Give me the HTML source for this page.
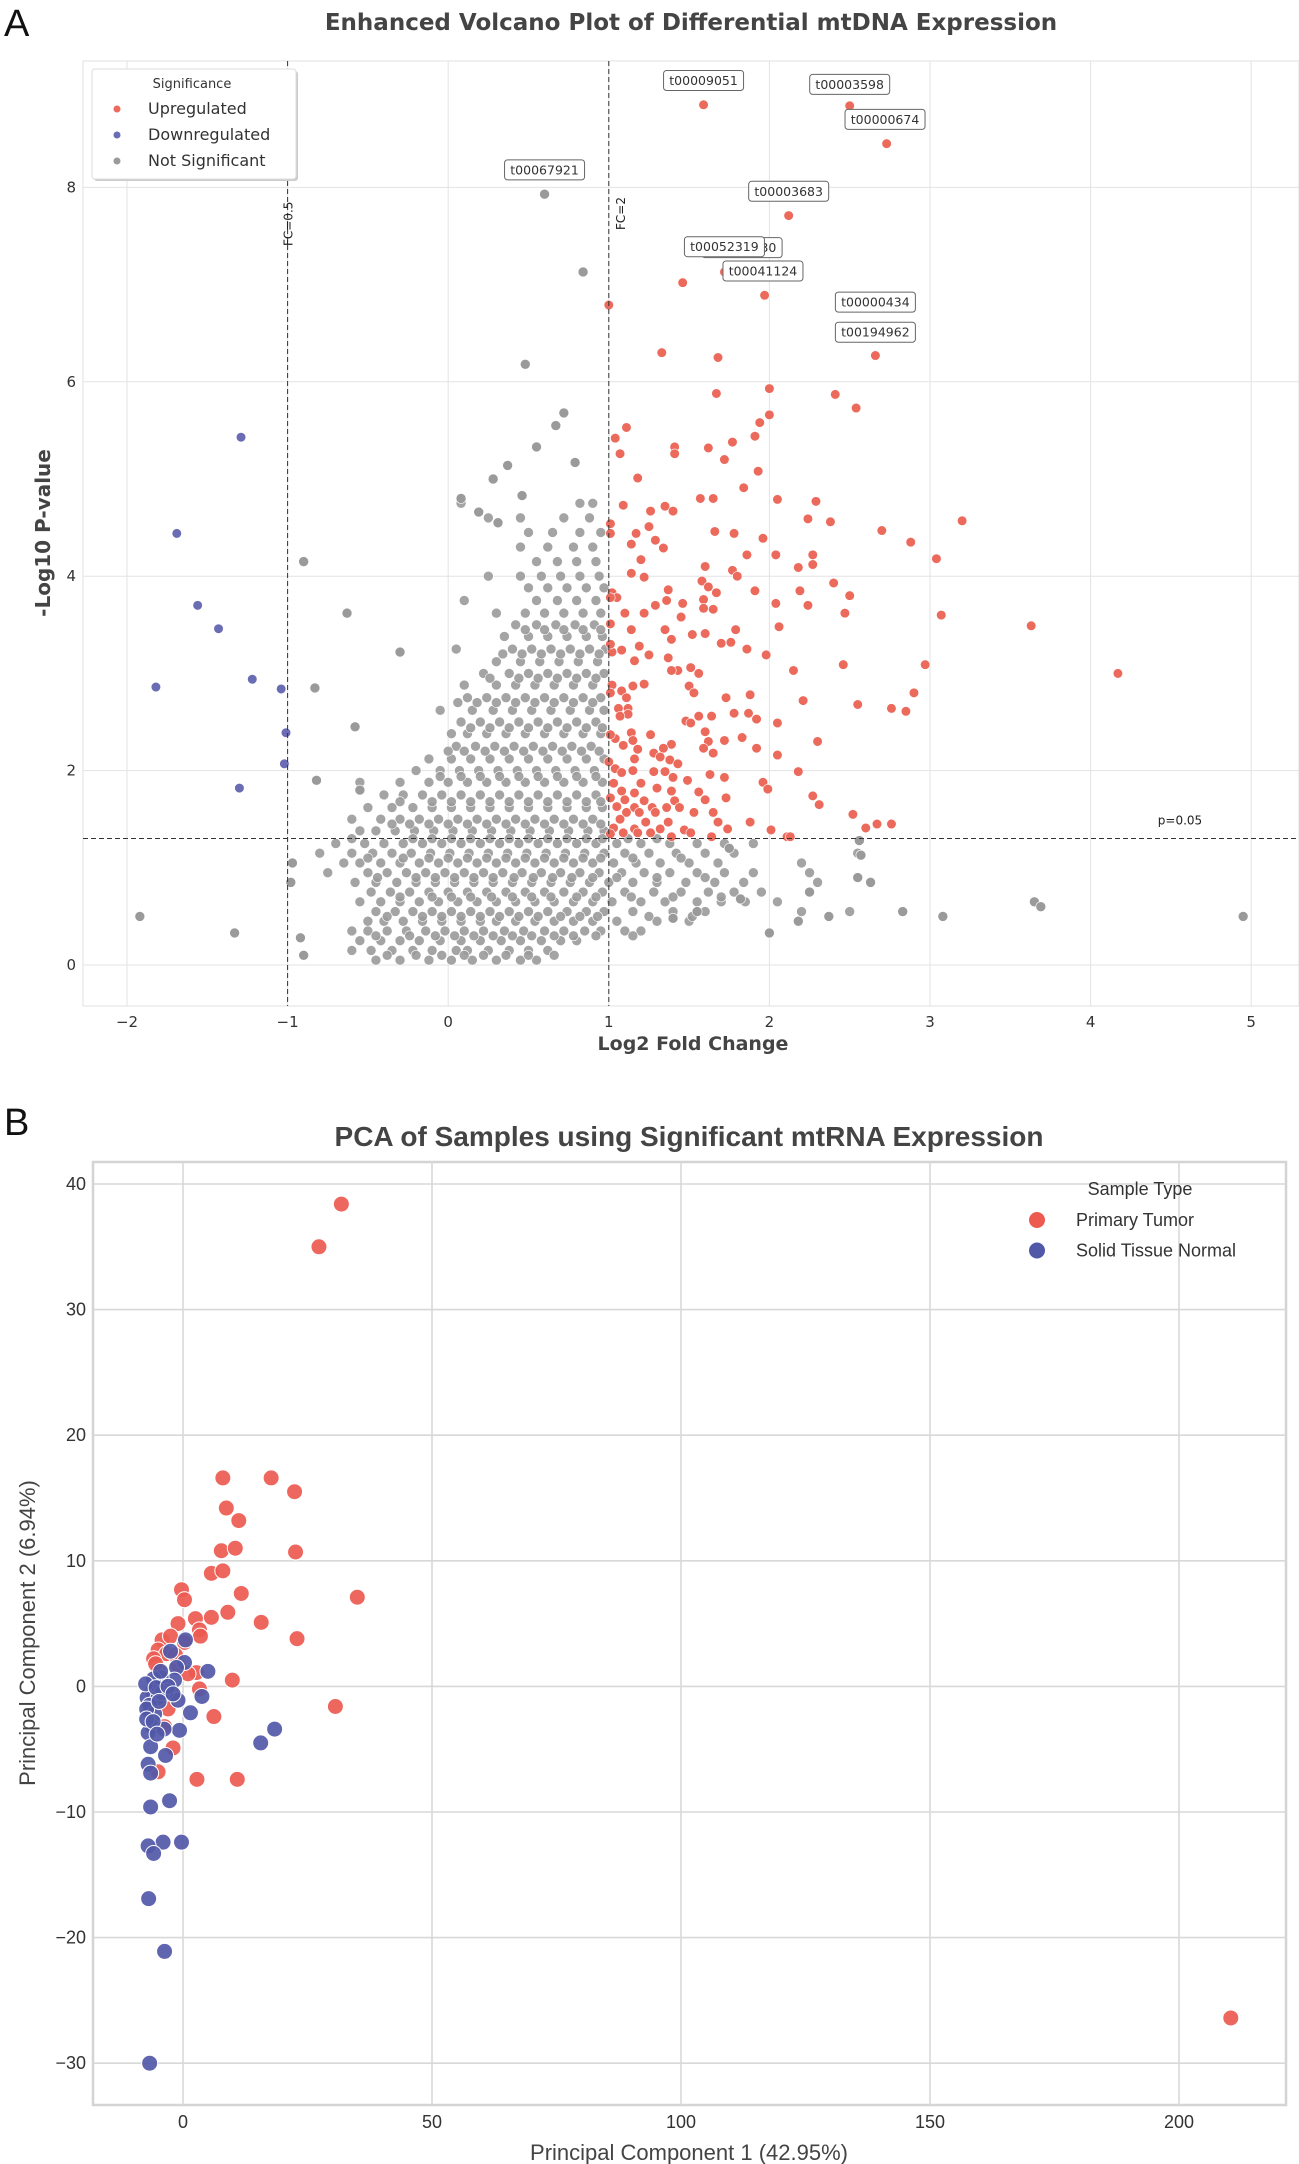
<!DOCTYPE html>
<html><head><meta charset="utf-8"><style>
html,body{margin:0;padding:0;background:#fff;}
svg{display:block;}
</style></head><body>
<svg id="fig" width="1299" height="2164" xmlns="http://www.w3.org/2000/svg">
<text x="4" y="36" font-family="Liberation Sans, sans-serif" font-size="38" fill="#111">A</text>
<text x="691" y="30" text-anchor="middle" font-family="DejaVu Sans, sans-serif" font-weight="bold" font-size="23" fill="#444">Enhanced Volcano Plot of Differential mtDNA Expression</text>
<g id="va"></g>
<text x="4" y="1135" font-family="Liberation Sans, sans-serif" font-size="38" fill="#111">B</text>
<text x="689" y="1146" text-anchor="middle" font-family="Liberation Sans, sans-serif" font-weight="bold" font-size="28" fill="#444">PCA of Samples using Significant mtRNA Expression</text>
<g id="pb"></g>
</svg>
<script>
// ---------- Volcano data ----------
const volXTicks = [-2,-1,0,1,2,3,4,5];
const volYTicks = [0,2,4,6,8];
const upX = [1.46,1.00,1.33,1.68,2.66,2.00,1.67,2.41,2.54,2.00,1.94,1.11,1.04,1.77,1.41,1.62,1.91,1.07,1.41,1.72,1.18,1.93,1.84,1.57,1.65,2.05,2.29,1.09,1.35,1.26,1.40,2.24,2.38,3.20,1.25,1.17,1.66,1.78,1.96,2.70,2.88,1.14,1.29,1.34,2.04,2.27,3.04,1.20,1.60,1.86,2.18,2.27,1.77,1.14,1.22,1.80,2.40,1.58,1.62,1.37,1.67,1.91,2.19,2.50,1.02,1.05,1.59,1.29,1.36,1.46,2.04,2.24,2.47,3.07,3.63,1.10,1.22,1.59,1.65,1.45,1.14,1.35,1.52,1.60,1.79,2.06,1.70,1.76,1.39,1.08,1.19,1.02,1.25,1.86,1.98,1.37,1.16,2.97,2.46,1.51,1.43,1.39,2.15,1.56,4.17,1.22,1.02,1.15,1.50,1.08,1.53,2.90,1.11,1.73,1.88,2.21,2.55,2.76,2.85,1.06,1.12,1.12,1.07,1.78,1.87,1.56,1.64,1.48,2.05,1.51,1.92,1.14,1.60,1.83,1.04,1.15,1.26,1.09,1.39,1.62,1.72,2.30,2.05,1.18,1.28,1.34,1.32,1.59,1.65,1.92,1.16,1.38,1.43,1.04,1.15,1.08,1.28,1.35,1.40,1.49,1.63,2.18,1.72,1.03,1.20,1.30,1.96,1.08,1.16,1.39,1.56,1.99,2.27,1.01,1.10,1.22,1.41,1.60,1.73,2.31,1.05,1.16,1.27,1.36,1.44,1.11,1.19,1.29,1.53,1.65,2.52,1.07,1.23,1.37,1.68,1.88,2.76,2.67,2.60,1.03,1.16,1.32,1.47,1.51,1.74,1.09,1.18,1.26,1.39,2.01,2.11,2.13,1.64,1.01,1.00,1.01,1.01,1.01,1.01,1.01,1.01,1.01,1.59,2.50,2.73,2.12,1.72,1.97,2.66];
const upY = [7.02,6.79,6.30,6.25,6.27,5.93,5.88,5.87,5.73,5.66,5.58,5.53,5.42,5.38,5.33,5.32,5.44,5.26,5.26,5.20,5.01,5.08,4.91,4.80,4.80,4.79,4.77,4.73,4.72,4.67,4.67,4.59,4.56,4.57,4.51,4.44,4.46,4.44,4.39,4.47,4.35,4.33,4.37,4.29,4.22,4.22,4.18,4.17,4.10,4.22,4.09,4.12,4.06,4.03,3.99,4.00,3.93,3.95,3.89,3.86,3.83,3.85,3.85,3.80,3.83,3.78,3.76,3.70,3.75,3.72,3.72,3.70,3.62,3.60,3.49,3.62,3.62,3.67,3.66,3.58,3.45,3.45,3.40,3.41,3.45,3.48,3.31,3.32,3.35,3.24,3.28,3.22,3.19,3.25,3.19,3.16,3.13,3.09,3.09,3.06,3.03,3.03,3.03,3.00,3.00,2.89,2.88,2.87,2.87,2.82,2.80,2.80,2.75,2.75,2.78,2.72,2.68,2.64,2.61,2.64,2.64,2.58,2.56,2.59,2.59,2.56,2.56,2.51,2.49,2.49,2.53,2.39,2.40,2.34,2.33,2.31,2.37,2.26,2.27,2.30,2.31,2.30,2.16,2.22,2.18,2.23,2.14,2.23,2.18,2.23,2.12,2.11,2.07,2.02,2.00,1.98,1.99,1.99,1.93,1.90,1.96,1.99,1.93,1.87,1.87,1.82,1.88,1.79,1.77,1.79,1.78,1.81,1.74,1.72,1.70,1.69,1.69,1.70,1.72,1.65,1.63,1.62,1.62,1.62,1.62,1.57,1.57,1.57,1.57,1.57,1.55,1.50,1.47,1.47,1.47,1.47,1.45,1.45,1.41,1.41,1.40,1.40,1.39,1.36,1.40,1.36,1.36,1.36,1.32,1.39,1.32,1.32,1.32,1.35,2.09,2.37,2.80,3.30,3.51,3.78,4.44,4.54,8.85,8.84,8.45,7.71,7.13,6.89,6.50];
const downX = [-1.29,-1.69,-1.56,-1.43,-1.82,-1.22,-1.04,-1.01,-1.02,-1.30];
const downY = [5.43,4.44,3.70,3.46,2.86,2.94,2.84,2.39,2.07,1.82];
const grayRowY = [0.05,0.15,0.25,0.35,0.45,0.55,0.65,0.75,0.85,0.95,1.05,1.15,1.25,1.38,1.5,1.62,1.75,1.88,2.0,2.12,2.25,2.38,2.5,2.62,2.75,2.88,3.0,3.12,3.25,3.38,3.5,3.62,3.75,3.88,4.0,4.15,4.3,4.45,4.6,4.75,
0.1,0.3,0.5,0.7,0.9,1.1,1.3,1.45,1.68,1.94,2.2,2.44,2.7,2.95,3.2,3.45];
const grayRowX = [
[-0.45,-0.3,-0.12,0.02,0.15,0.3,0.45,0.55],
[-0.6,-0.48,-0.35,-0.22,-0.1,0.05,0.12,0.25,0.38,0.5,0.62],
[-0.55,-0.42,-0.3,-0.18,-0.05,0.08,0.2,0.33,0.45,0.58,0.7,0.8],
[-0.6,-0.5,-0.38,-0.26,-0.14,-0.02,0.1,0.22,0.35,0.47,0.6,0.72,0.85,0.95,1.1,1.2],
[-0.5,-0.4,-0.28,-0.16,-0.04,0.08,0.2,0.3,0.42,0.54,0.66,0.78,0.9,1.05,1.3,1.5],
[-0.45,-0.33,-0.22,-0.1,0.02,0.14,0.26,0.38,0.5,0.62,0.74,0.86,0.97,1.15,1.4,1.6,2.2,2.5],
[-0.55,-0.42,-0.3,-0.18,-0.06,0.06,0.18,0.3,0.42,0.54,0.66,0.78,0.9,1.02,1.2,1.35,1.55,1.7,1.85,2.05],
[-0.48,-0.36,-0.24,-0.12,0,0.12,0.24,0.36,0.48,0.6,0.72,0.84,0.96,1.1,1.28,1.45,1.62,1.78,1.95],
[-0.58,-0.45,-0.32,-0.2,-0.08,0.04,0.16,0.28,0.4,0.52,0.64,0.76,0.88,1.0,1.15,1.3,1.48,1.66,1.84,2.3],
[-0.75,-0.5,-0.38,-0.26,-0.14,-0.02,0.1,0.22,0.34,0.46,0.58,0.7,0.82,0.94,1.08,1.22,1.38,1.55,1.72,1.9,2.25],
[-0.65,-0.55,-0.42,-0.3,-0.18,-0.06,0.06,0.18,0.3,0.42,0.54,0.66,0.78,0.9,1.03,1.17,1.32,1.5,1.68,2.2],
[-0.8,-0.6,-0.47,-0.35,-0.23,-0.11,0.01,0.13,0.25,0.37,0.49,0.61,0.73,0.85,0.97,1.1,1.25,1.42,1.6,1.78,2.55],
[-0.7,-0.52,-0.4,-0.28,-0.16,-0.04,0.08,0.2,0.32,0.44,0.56,0.68,0.8,0.92,1.05,1.2,1.38,1.55,1.72,1.9],
[-0.55,-0.45,-0.33,-0.21,-0.09,0.03,0.15,0.27,0.39,0.51,0.63,0.75,0.87,0.97],
[-0.6,-0.42,-0.3,-0.18,-0.06,0.06,0.18,0.3,0.42,0.54,0.66,0.78,0.9],
[-0.5,-0.35,-0.22,-0.1,0.02,0.14,0.26,0.38,0.5,0.62,0.74,0.86,0.96],
[-0.4,-0.28,-0.16,-0.04,0.08,0.2,0.32,0.44,0.56,0.68,0.8,0.92],
[-0.55,-0.3,-0.12,0,0.12,0.24,0.36,0.48,0.6,0.72,0.84,0.96],
[-0.2,-0.05,0.07,0.19,0.31,0.43,0.55,0.67,0.79,0.91],
[-0.12,0.02,0.14,0.26,0.38,0.5,0.62,0.74,0.86,0.97],
[0.05,0.17,0.29,0.41,0.53,0.65,0.77,0.89],
[0.02,0.12,0.24,0.36,0.48,0.6,0.72,0.84,0.95],
[0.08,0.2,0.32,0.44,0.56,0.68,0.8,0.92],
[-0.05,0.15,0.28,0.4,0.52,0.64,0.76,0.88,0.97],
[0.12,0.24,0.36,0.48,0.6,0.72,0.84,0.95],
[0.1,0.3,0.42,0.54,0.66,0.78,0.9],
[0.22,0.38,0.5,0.62,0.74,0.86,0.97],
[0.3,0.45,0.57,0.69,0.81,0.93],
[0.05,0.4,0.52,0.64,0.76,0.88,0.98],
[0.35,0.5,0.62,0.74,0.86,0.96],
[0.42,0.55,0.67,0.79,0.91],
[0.3,0.48,0.6,0.72,0.84,0.95],
[0.1,0.55,0.68,0.8,0.92],
[0.5,0.62,0.74,0.86,0.97],
[0.25,0.45,0.58,0.7,0.82,0.94],
[0.55,0.68,0.8,0.92],
[0.45,0.62,0.78,0.9],
[0.5,0.65,0.82,0.95],
[0.25,0.45,0.72,0.88],
[0.08,0.82,0.9],
[-0.38,-0.2,-0.04,0.1,0.22,0.36,0.5,0.66],
[-0.45,-0.24,-0.08,0.04,0.16,0.28,0.4,0.52,0.66,0.78,0.92,1.15],
[-0.38,-0.16,-0.04,0.08,0.2,0.32,0.44,0.56,0.7,0.82,0.93,1.25,1.52],
[-0.3,-0.1,0.02,0.14,0.27,0.4,0.52,0.64,0.8,0.92,1.14,1.4,1.7],
[-0.44,-0.2,-0.08,0.04,0.16,0.28,0.41,0.53,0.65,0.77,0.9,1.05,1.3,1.6],
[-0.5,-0.28,-0.12,0.0,0.12,0.24,0.36,0.48,0.6,0.72,0.84,0.95,1.15,1.45],
[-0.6,-0.22,-0.1,0.02,0.14,0.26,0.38,0.5,0.62,0.74,0.86,0.96,1.12,1.3],
[-0.35,-0.24,-0.12,0.0,0.12,0.24,0.36,0.48,0.6,0.72,0.84,0.95],
[-0.3,-0.1,0.02,0.14,0.26,0.38,0.5,0.62,0.74,0.86,0.95],
[-0.05,0.08,0.2,0.32,0.44,0.56,0.68,0.8,0.92],
[0.0,0.1,0.23,0.35,0.47,0.59,0.71,0.83,0.94],
[0.14,0.26,0.38,0.5,0.62,0.74,0.86,0.96],
[0.06,0.18,0.3,0.42,0.54,0.66,0.78,0.9],
[0.26,0.44,0.56,0.68,0.8,0.92],
[0.34,0.46,0.58,0.7,0.82,0.94],
[0.48,0.6,0.72,0.84,0.95]];
const grayOutX = [-1.92,-1.33,-0.9,-0.92,-0.98,-0.97,-0.83,-0.63,-0.3,-0.9,-0.82,-0.58,-0.55,0.48,0.6,0.84,0.72,0.67,0.55,0.37,0.79,0.28,0.46,0.08,0.19,0.31,2.55,2.63,2.83,3.08,3.65,3.69,4.95,2.0,2.18,2.37,2.25,2.57,2.56,1.75,1.82,1.4,1.55];
const grayOutY = [0.5,0.33,0.1,0.28,0.85,1.05,2.85,3.62,3.22,4.15,1.9,2.45,1.8,6.18,7.93,7.13,5.68,5.55,5.33,5.14,5.17,5.0,4.83,4.8,4.66,4.55,0.9,0.85,0.55,0.5,0.65,0.6,0.5,0.33,0.45,0.5,0.75,1.13,1.28,1.2,0.68,0.48,0.55];
const labelNames = ["t00009051","t00003598","t00000674","t00067921","t00003683","t00051930","t00052319","t00041124","t00000434","t00194962"];
const labelX = [1.59,2.50,2.72,0.60,2.12,1.83,1.72,1.96,2.66,2.66];
const labelY = [9.10,9.06,8.70,8.18,7.96,7.38,7.39,7.14,6.82,6.51];
const pThresh = 1.301;
const fcLow = -1, fcHigh = 1;

// ---------- PCA data ----------
const pcaXTicks = [0,50,100,150,200];
const pcaYTicks = [-30,-20,-10,0,10,20,30,40];
const tumorX = [31.8,27.3,8.0,17.7,22.4,8.7,11.2,7.7,10.5,22.6,5.7,8.0,11.7,35.0,-0.3,0.3,9.0,5.7,15.7,2.5,-1.0,3.3,3.5,22.9,-4.2,-2.5,0.3,-5.0,-3.3,-5.9,2.7,9.9,-5.0,30.6,3.3,6.2,-2.0,-5.0,2.8,10.9,210.4,-4,-1,-2.5,-3.7,-1.5,1.0,-3.0,-5.5];
const tumorY = [38.4,35.0,16.6,16.6,15.5,14.2,13.2,10.8,11.0,10.7,9.0,9.2,7.4,7.1,7.7,6.9,5.9,5.5,5.1,5.4,5.0,4.5,4.0,3.8,3.7,4.0,3.5,2.9,2.6,2.2,1.1,0.5,1.3,-1.6,-0.2,-2.4,-4.9,-6.8,-7.4,-7.4,-26.4,0.2,1.7,-0.4,-3.2,2.5,1.0,-1.8,1.8];
const normalX = [0.5,-2.5,0.3,-1.3,5.0,-1.7,-4.4,-5.9,3.8,-1.0,1.5,-0.7,-6.2,-7.2,-5.0,-3.3,-4.2,-6.7,-5.7,-6.2,-3.8,-7.0,-6.5,-3.5,-7.0,-6.5,18.4,15.6,-2.7,-6.5,-4.0,-0.3,-7.0,-5.9,-6.9,-3.7,-6.7,-7.5,-5.4,-7.3,-7.3,-4.8,-3.0,-6.0,-4.5,-2.0,-5.2];
const normalY = [3.7,2.8,1.9,1.5,1.2,0.5,0.7,0.6,-0.8,-1.1,-2.1,-3.5,-0.4,-0.9,-0.9,-0.4,-0.5,-1.5,-2.2,-3.2,-3.4,-3.7,-4.8,-5.5,-6.2,-6.9,-3.4,-4.5,-9.1,-9.6,-12.4,-12.4,-12.7,-13.3,-16.9,-21.1,-30.0,0.2,-0.1,-1.8,-2.6,-1.2,0.0,-2.8,1.2,-0.6,-3.8];

const NS = "http://www.w3.org/2000/svg";
function mk(parent, tag, attrs, txt){
  const e = document.createElementNS(NS, tag);
  for (const k in attrs) e.setAttribute(k, attrs[k]);
  if (txt !== undefined) e.textContent = txt;
  parent.appendChild(e);
  return e;
}

// ---------- Volcano ----------
(function(){
  const g = document.getElementById('va');
  const L=83, R=1299, T=61, B=1006;
  const vx = v => 127 + (v + 2) * 160.6;
  const vy = v => 965 - v * 97.2;
  const DV = "DejaVu Sans, sans-serif";
  const bg = mk(g,'rect',{x:L,y:T,width:R-L,height:B-T,fill:'#fff',stroke:'#e0e0e0','stroke-width':1});
  
  
  volXTicks.forEach(t=>{
    const l = mk(g,'line',{x1:vx(t),x2:vx(t),y1:T,y2:B,stroke:'#e3e3e3','stroke-width':1});
    
    
    const s = mk(g,'text',{x:vx(t),y:1027,'text-anchor':'middle','font-family':DV,'font-size':15,fill:'#333'}, t<0?('\u2212'+(-t)):String(t));
    
    
  });
  volYTicks.forEach(t=>{
    const l = mk(g,'line',{x1:L,x2:R,y1:vy(t),y2:vy(t),stroke:'#e3e3e3','stroke-width':1});
    
    
    const s = mk(g,'text',{x:76,y:vy(t)+5,'text-anchor':'end','font-family':DV,'font-size':15,fill:'#333'}, String(t));
    
    
  });
  const xt = mk(g,'text',{x:693,y:1050,'text-anchor':'middle','font-family':DV,'font-weight':'bold','font-size':19,fill:'#444'},'Log2 Fold Change');
  
  
  const yt = mk(g,'text',{x:0,y:0,transform:'translate(50,533) rotate(-90)','text-anchor':'middle','font-family':DV,'font-weight':'bold','font-size':20,fill:'#444'},'-Log10 P-value');
  
  

  grayRowY.forEach((yv,i)=>{
    grayRowX[i].forEach(xv=>{
      const c = mk(g,'circle',{cx:vx(xv),cy:vy(yv),r:5,fill:'#9a9a9a',stroke:'#fff','stroke-width':0.6,'fill-opacity':0.9});
      
      
    });
  });
  grayOutX.forEach((xv,i)=>{
    const c = mk(g,'circle',{cx:vx(xv),cy:vy(grayOutY[i]),r:5,fill:'#9a9a9a',stroke:'#fff','stroke-width':0.6});
    
    
  });
  upX.forEach((xv,i)=>{
    const c = mk(g,'circle',{cx:vx(xv),cy:vy(upY[i]),r:4.8,fill:'#ec6a5c',stroke:'#fff','stroke-width':0.6});
    
    
  });
  downX.forEach((xv,i)=>{
    const c = mk(g,'circle',{cx:vx(xv),cy:vy(downY[i]),r:4.8,fill:'#6a6cb4',stroke:'#fff','stroke-width':0.6});
    
    
  });
  [fcLow,fcHigh].forEach(f=>{
    const l = mk(g,'line',{x1:vx(f),x2:vx(f),y1:T,y2:B,stroke:'#333','stroke-width':1,'stroke-dasharray':'5,3'});
    
    
  });
  const hl = mk(g,'line',{x1:L,x2:R,y1:vy(pThresh),y2:vy(pThresh),stroke:'#333','stroke-width':1,'stroke-dasharray':'5,3'});
  
  
  const t1 = mk(g,'text',{x:0,y:0,transform:`translate(${vx(fcLow)+5},246) rotate(-90)`,'font-family':DV,'font-size':12,fill:'#222'},'FC=0.5');
  
  
  const t2 = mk(g,'text',{x:0,y:0,transform:`translate(${vx(fcHigh)+16},230) rotate(-90)`,'font-family':DV,'font-size':12,fill:'#222'},'FC=2');
  
  
  const t3 = mk(g,'text',{x:1180,y:vy(pThresh)-14,'text-anchor':'middle','font-family':DV,'font-size':12,fill:'#222'},'p=0.05');
  
  

  labelNames.forEach((n,i)=>{
    const cx = vx(labelX[i]), cy = vy(labelY[i]);
    const grp = mk(g,'g',{});
    
    
    mk(grp,'rect',{x:cx-40,y:cy-10,width:80,height:20,rx:3,fill:'#fff',stroke:'#666','stroke-width':1});
    mk(grp,'text',{x:cx,y:cy+4.5,'text-anchor':'middle','font-family':DV,'font-size':12.5,fill:'#333'},n);
  });

  const lg = mk(g,'g',{});
  
  
  mk(lg,'rect',{x:94,y:71,width:204,height:110,rx:3,fill:'#ccc'});
  mk(lg,'rect',{x:92,y:69,width:204,height:110,rx:3,fill:'#fff',stroke:'#ddd'});
  mk(lg,'text',{x:192,y:88,'text-anchor':'middle','font-family':DV,'font-size':13,fill:'#333'},'Significance');
  const ent = [['Upregulated','#ec6a5c'],['Downregulated','#6a6cb4'],['Not Significant','#9a9a9a']];
  ent.forEach((e,i)=>{
    const eg = mk(lg,'g',{});
    
    
    mk(eg,'circle',{cx:117,cy:109+i*26,r:3.5,fill:e[1]});
    mk(eg,'text',{x:148,y:114+i*26,'font-family':DV,'font-size':16,fill:'#333'},e[0]);
  });
})();

// ---------- PCA ----------
(function(){
  const g = document.getElementById('pb');
  const L=93, R=1286, T=1162, B=2105;
  const px = v => 183 + v * 4.98;
  const py = v => 1184 + (40 - v) * 12.56;
  const LS = "Liberation Sans, sans-serif";
  const bg = mk(g,'rect',{x:L,y:T,width:R-L,height:B-T,fill:'#fff',stroke:'#d4d4d4','stroke-width':2.5});
  
  
  pcaXTicks.forEach(t=>{
    const l = mk(g,'line',{x1:px(t),x2:px(t),y1:T,y2:B,stroke:'#d8d8d8','stroke-width':1.6});
    
    
    const s = mk(g,'text',{x:px(t),y:2128,'text-anchor':'middle','font-family':LS,'font-size':18,fill:'#333'},String(t));
    
    
  });
  pcaYTicks.forEach(t=>{
    const l = mk(g,'line',{x1:L,x2:R,y1:py(t),y2:py(t),stroke:'#d8d8d8','stroke-width':1.6});
    
    
    const s = mk(g,'text',{x:86,y:py(t)+6,'text-anchor':'end','font-family':LS,'font-size':18,fill:'#333'}, t<0?('\u2212'+(-t)):String(t));
    
    
  });
  const xt = mk(g,'text',{x:689,y:2160,'text-anchor':'middle','font-family':LS,'font-size':22,fill:'#444'},'Principal Component 1 (42.95%)');
  
  
  const yt = mk(g,'text',{x:0,y:0,transform:'translate(35,1633) rotate(-90)','text-anchor':'middle','font-family':LS,'font-size':22,fill:'#444'},'Principal Component 2 (6.94%)');
  
  
  tumorX.forEach((xv,i)=>{
    const c = mk(g,'circle',{cx:px(xv),cy:py(tumorY[i]),r:8,fill:'#ec5a50',stroke:'#fff','stroke-width':1,'fill-opacity':0.92});
    
    
  });
  normalX.forEach((xv,i)=>{
    const c = mk(g,'circle',{cx:px(xv),cy:py(normalY[i]),r:8,fill:'#5258a8',stroke:'#fff','stroke-width':1,'fill-opacity':0.92});
    
    
  });
  const lg = mk(g,'g',{});
  
  
  mk(lg,'text',{x:1140,y:1195,'text-anchor':'middle','font-family':LS,'font-size':18,fill:'#333'},'Sample Type');
  [['Primary Tumor','#ec5a50'],['Solid Tissue Normal','#5258a8']].forEach((e,i)=>{
    const eg = mk(lg,'g',{});
    
    
    mk(eg,'circle',{cx:1037,cy:1220+i*30.5,r:8,fill:e[1]});
    mk(eg,'text',{x:1076,y:1226+i*30.5,'font-family':LS,'font-size':18,fill:'#333'},e[0]);
  });
})();
</script>
</body></html>
